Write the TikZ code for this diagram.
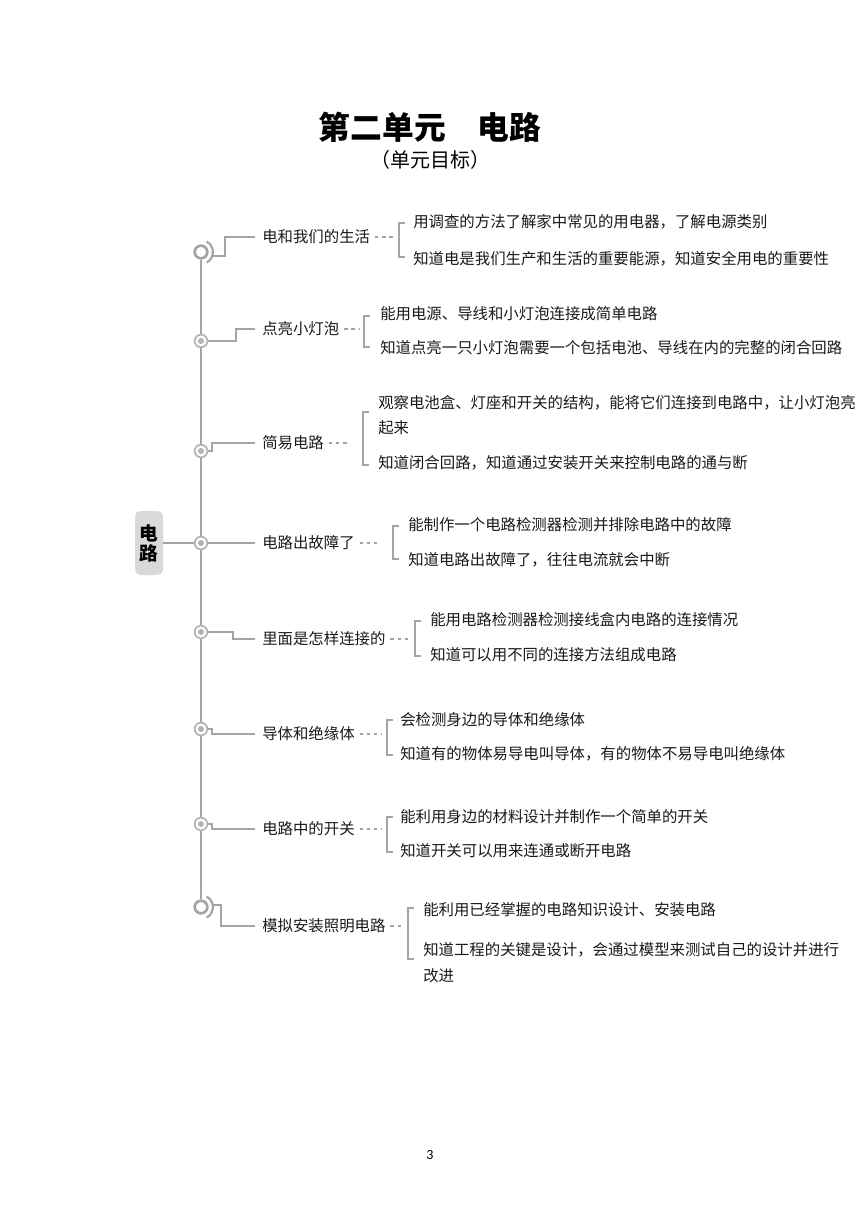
\documentclass[tikz,border=0pt]{standalone}
\usepackage{fontspec}
\setmainfont{Carlito}
\newfontfamily\cjk{Noto Sans CJK SC}
\definecolor{lg}{HTML}{A4A4A4}
\definecolor{rg}{HTML}{B4B4B4}
\definecolor{tx}{HTML}{1A1A1A}
\definecolor{boxg}{HTML}{D9D9D9}
\begin{document}
\begin{tikzpicture}[x=0.75pt,y=-0.75pt,
  conn/.style={draw=lg, line width=1.7pt},
  trunkline/.style={draw=lg, line width=2pt},
  dashline/.style={draw=lg, line width=0.9pt, dash pattern=on 2.6pt off 2.8pt},
  brk/.style={draw=lg, line width=1.5pt},
  lbl/.style={anchor=west, inner sep=0pt, font=\cjk\fontsize{11.55}{14}\selectfont, text=tx},
  item/.style={anchor=west, inner sep=0pt, font=\cjk\fontsize{11.55}{14}\selectfont, text=tx},
  smallring/.style={circle, draw=rg, line width=1.3pt, fill=white, minimum size=9.5pt, inner sep=0pt},
  bigring/.style={circle, draw=lg, line width=2pt, fill=white, minimum size=9.5pt, inner sep=0pt},
  rootbox/.style={rounded corners=4pt, fill=boxg, minimum width=21pt, minimum height=48pt, inner sep=0pt, align=center, font=\cjk\bfseries\fontsize{14}{18}\selectfont, text=black}
]
\useasboundingbox (0,0) rectangle (860,1216);
\fill[white] (0,0) rectangle (860,1216);

% title
\node[font=\cjk\bfseries\fontsize{23.8}{28}\selectfont, text=black] (title) at (430,127) {第二单元　电路};
\node[font=\cjk\fontsize{15}{18}\selectfont, text=black] (subtitle) at (430,160) {（单元目标）};

% trunk nodes
\node[bigring] (c1) at (201,252) {};
\node[smallring] (c2) at (201,341) {};
\node[smallring] (c3) at (201,451) {};
\node[smallring] (c4) at (201,543) {};
\node[smallring] (c5) at (201,632) {};
\node[smallring] (c6) at (201,729) {};
\node[smallring] (c7) at (201,824) {};
\node[bigring] (c8) at (201,907) {};

\foreach \c in {c2,c3,c4,c5,c6,c7} \fill[rg] (\c) circle (2.3pt);
\foreach \c in {c1,c8} \draw[lg, line width=1.6pt] (\c) ++(-62:12) arc (-62:62:12);

% trunk segments
\draw[trunkline] (c1.south) -- (c2.north);
\draw[trunkline] (c2.south) -- (c3.north);
\draw[trunkline] (c3.south) -- (c4.north);
\draw[trunkline] (c4.south) -- (c5.north);
\draw[trunkline] (c5.south) -- (c6.north);
\draw[trunkline] (c6.south) -- (c7.north);
\draw[trunkline] (c7.south) -- (c8.north);

% root
\node[rootbox] (root) at (149,543) {电\\[-3pt]路};
\draw[conn] (root.east) -- (c4.west);

% labels
\node[lbl] (L1) at (262,237) {电和我们的生活};
\node[lbl] (L2) at (262,329) {点亮小灯泡};
\node[lbl] (L3) at (262,443) {简易电路};
\node[lbl] (L4) at (262,543) {电路出故障了};
\node[lbl] (L5) at (262,639) {里面是怎样连接的};
\node[lbl] (L6) at (262,734) {导体和绝缘体};
\node[lbl] (L7) at (262,829) {电路中的开关};
\node[lbl] (L8) at (262,926) {模拟安装照明电路};

% branch connectors
\draw[conn] ([shift={(11,4)}]c1.center) -- (225,256) |- ([xshift=-5.25pt]L1.west);
\draw[conn] (c2.east) -- (236,341) |- ([xshift=-5.25pt]L2.west);
\draw[conn] (c3.east) -- (212,451) |- ([xshift=-5.25pt]L3.west);
\draw[conn] (c4.east) -- ([xshift=-5.25pt]L4.west);
\draw[conn] (c5.east) -- (233,632) |- ([xshift=-5.25pt]L5.west);
\draw[conn] (c6.east) -- (212,729) |- ([xshift=-5.25pt]L6.west);
\draw[conn] (c7.east) -- (212,824) |- ([xshift=-5.25pt]L7.west);
\draw[conn] ([shift={(11,-2)}]c8.center) -- (221,905) |- ([xshift=-5.25pt]L8.west);

% dash ends
\coordinate (k1) at (395,237);
\coordinate (k2) at (359,329);
\coordinate (k3) at (350,443);
\coordinate (k4) at (379,543);
\coordinate (k5) at (410,639);
\coordinate (k6) at (382,734);
\coordinate (k7) at (382,829);
\coordinate (k8) at (404,926);
\foreach \i in {1,...,8} \draw[dashline] ([xshift=3.5pt]L\i.east) -- (k\i);

% brackets
\draw[brk] (405,223) -- (399,223) -- (399,257) -- (405,257);
\draw[brk] (370,316) -- (364,316) -- (364,347) -- (370,347);
\draw[brk] (369,412) -- (363,412) -- (363,465) -- (369,465);
\draw[brk] (399,526) -- (393,526) -- (393,559) -- (399,559);
\draw[brk] (421,621) -- (415,621) -- (415,656) -- (421,656);
\draw[brk] (393,720) -- (387,720) -- (387,755) -- (393,755);
\draw[brk] (393,817) -- (387,817) -- (387,852) -- (393,852);
\draw[brk] (414,908) -- (408,908) -- (408,959) -- (414,959);

% items
\node[item] (t1a) at (413,222) {用调查的方法了解家中常见的用电器，了解电源类别};
\node[item] (t1b) at (413,259) {知道电是我们生产和生活的重要能源，知道安全用电的重要性};
\node[item] (t2a) at (380,314) {能用电源、导线和小灯泡连接成简单电路};
\node[item] (t2b) at (380,348) {知道点亮一只小灯泡需要一个包括电池、导线在内的完整的闭合回路};
\node[item] (t3a) at (378,403) {观察电池盒、灯座和开关的结构，能将它们连接到电路中，让小灯泡亮};
\node[item] (t3b) at (378,428) {起来};
\node[item] (t3c) at (378,463) {知道闭合回路，知道通过安装开关来控制电路的通与断};
\node[item] (t4a) at (408,525) {能制作一个电路检测器检测并排除电路中的故障};
\node[item] (t4b) at (408,560) {知道电路出故障了，往往电流就会中断};
\node[item] (t5a) at (430,620) {能用电路检测器检测接线盒内电路的连接情况};
\node[item] (t5b) at (430,655) {知道可以用不同的连接方法组成电路};
\node[item] (t6a) at (400,720) {会检测身边的导体和绝缘体};
\node[item] (t6b) at (400,754) {知道有的物体易导电叫导体，有的物体不易导电叫绝缘体};
\node[item] (t7a) at (400,817) {能利用身边的材料设计并制作一个简单的开关};
\node[item] (t7b) at (400,851) {知道开关可以用来连通或断开电路};
\node[item] (t8a) at (423,910) {能利用已经掌握的电路知识设计、安装电路};
\node[item] (t8b) at (423,950) {知道工程的关键是设计，会通过模型来测试自己的设计并进行};
\node[item] (t8c) at (423,976) {改进};

% page number
\node[font=\fontsize{10.5}{12}\selectfont, text=black] (pg) at (430,1155) {3};
\end{tikzpicture}
\end{document}
